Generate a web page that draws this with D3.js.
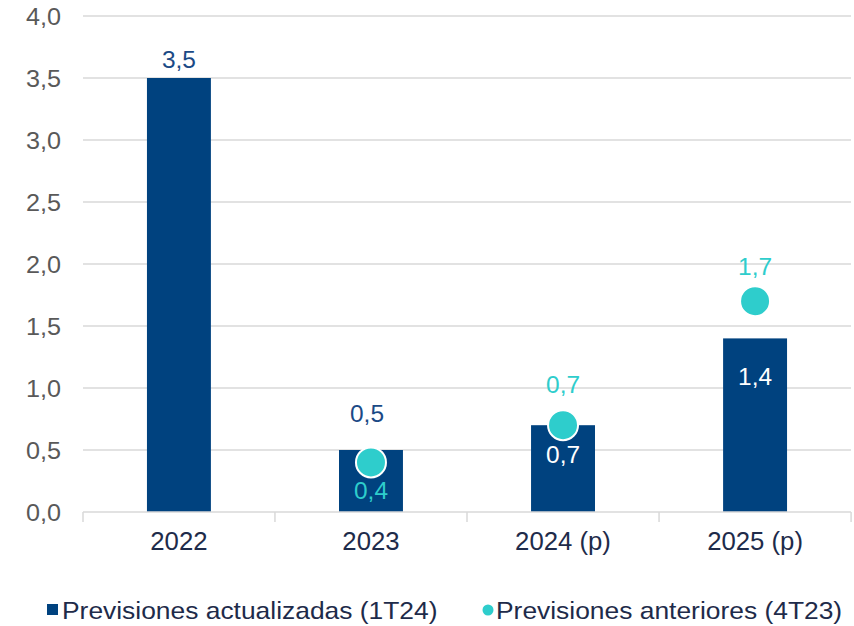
<!DOCTYPE html>
<html>
<head>
<meta charset="utf-8">
<script src="https://cdn.jsdelivr.net/npm/d3@7"></script>
<style>
  body { margin: 0; background: #fff; }
  text { font-family: "Liberation Sans", Arial, sans-serif; }
</style>
</head>
<body>
<svg id="chart" width="854" height="626"></svg>
<script>
const categories = ["2022", "2023", "2024 (p)", "2025 (p)"];
const actualizadas = [3.5, 0.5, 0.7, 1.4];
const anteriores = [null, 0.4, 0.7, 1.7];
const yTicks = [0, 0.5, 1, 1.5, 2, 2.5, 3, 3.5, 4];
const seriesNames = ["Previsiones actualizadas (1T24)", "Previsiones anteriores (4T23)"];

const navy = "#00427f";
const navyText = "#1b4a86";
const cyan = "#2ecdcc";

const svg = d3.select("#chart");
const fmt = v => d3.format(".1f")(v).replace(".", ",");

const x = d3.scaleBand().domain(categories).range([83, 851]).paddingInner(0.667).paddingOuter(0.333);
const y = d3.scaleLinear().domain([0, 4]).range([512, 16]);
const mid = c => x(c) + x.bandwidth() / 2;

// text slightly stretched sideways, like the original
function label(g, px, py, txt, opts) {
  return g.append("g").attr("transform", `translate(${px},${py}) scale(${opts.sx || 1},1)`)
    .append("text")
    .attr("text-anchor", opts.anchor || "middle")
    .attr("font-size", opts.size)
    .attr("fill", opts.fill)
    .text(txt);
}

// gridlines
svg.append("g").selectAll("line")
  .data(yTicks.filter(d => d > 0))
  .join("line")
  .attr("x1", 83).attr("x2", 851)
  .attr("y1", d => y(d)).attr("y2", d => y(d))
  .attr("stroke", "#d9d9d9").attr("stroke-width", 1.5);

// y labels
const yl = svg.append("g");
yTicks.forEach(d => label(yl, 61, y(d) + 8.5, fmt(d), { anchor: "end", size: 24, sx: 1.05, fill: "#595959" }));

// bars
svg.append("g").selectAll("rect")
  .data(actualizadas)
  .join("rect")
  .attr("x", (d, i) => x(categories[i]))
  .attr("width", x.bandwidth())
  .attr("y", d => y(d))
  .attr("height", d => y(0) - y(d))
  .attr("fill", navy);

// x axis
const ax = svg.append("g");
ax.append("line").attr("x1", 83).attr("x2", 851).attr("y1", 512).attr("y2", 512)
  .attr("stroke", "#d9d9d9").attr("stroke-width", 1.5);
const bounds = [83].concat(categories.map(c => mid(c) + x.step() / 2));
ax.selectAll(".tk").data(bounds).join("line")
  .attr("x1", d => d).attr("x2", d => d).attr("y1", 512).attr("y2", 522)
  .attr("stroke", "#d9d9d9").attr("stroke-width", 1.5);
categories.forEach(c => label(ax, mid(c), 550, c, { size: 25, sx: 1.03, fill: "#1e2b4a" }));

// dots
const pts = anteriores.map((v, i) => ({ v, c: categories[i] })).filter(d => d.v != null);
svg.append("g").selectAll("circle")
  .data(pts)
  .join("circle")
  .attr("cx", d => mid(d.c))
  .attr("cy", d => y(d.v))
  .attr("r", 15)
  .attr("fill", cyan)
  .attr("stroke", "#fff").attr("stroke-width", 2);

// data labels
const dl = svg.append("g");
const barOffsets = [-10, -28, 38, 47];
actualizadas.forEach((v, i) => {
  const inside = barOffsets[i] > 0;
  label(dl, mid(categories[i]) - (i === 1 ? 4 : 0), y(v) + barOffsets[i], fmt(v),
    { size: 24, sx: 1.02, fill: inside ? "#fff" : navyText });
});
const dotOffsets = [37, -32, -26];
pts.forEach((d, i) => {
  label(dl, mid(d.c), y(d.v) + dotOffsets[i], fmt(d.v), { size: 24, sx: 1.02, fill: cyan });
});

// legend
const lg = svg.append("g");
lg.append("rect").attr("x", 47).attr("y", 604).attr("width", 11).attr("height", 11).attr("fill", navy);
label(lg, 62, 619, seriesNames[0], { anchor: "start", size: 24, sx: 1.1, fill: "#1e2b4a" });
lg.append("circle").attr("cx", 488).attr("cy", 610).attr("r", 5.5).attr("fill", cyan);
label(lg, 496, 619, seriesNames[1], { anchor: "start", size: 24, sx: 1.1, fill: "#1e2b4a" });
</script>
</body>
</html>
